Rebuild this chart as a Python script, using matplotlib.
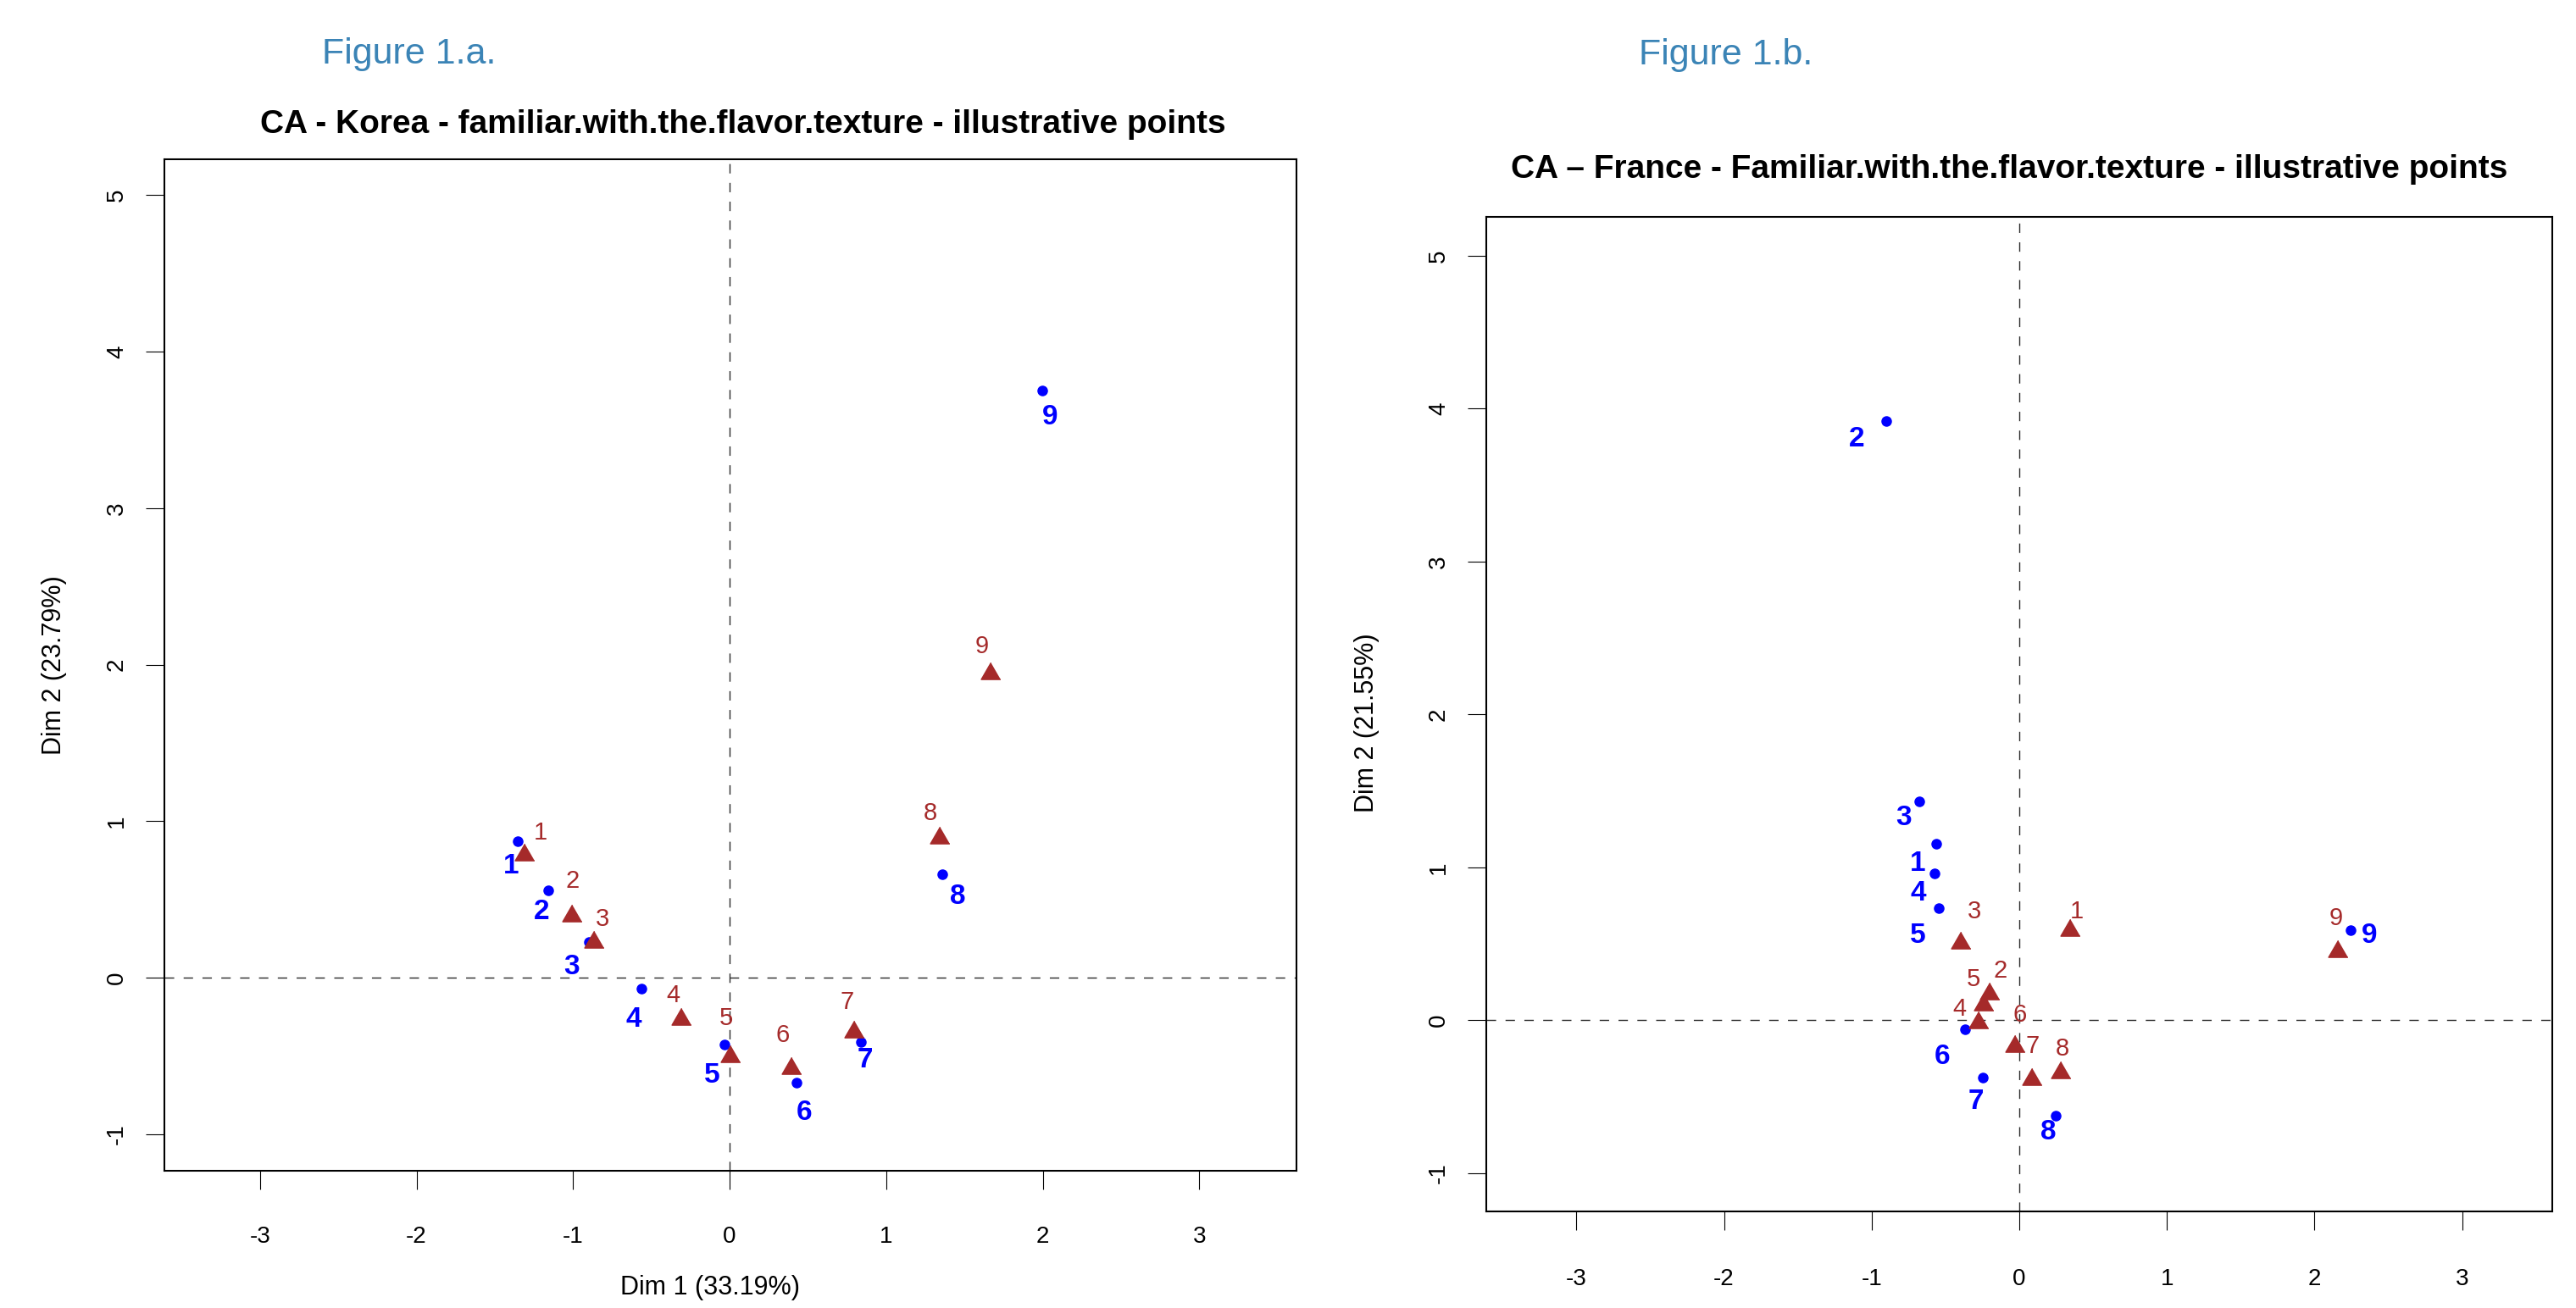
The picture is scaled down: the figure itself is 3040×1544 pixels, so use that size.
import matplotlib
matplotlib.use("Agg")
import matplotlib.pyplot as plt

FONT = ["Liberation Sans Narrow", "Liberation Sans", "DejaVu Sans"]
plt.rcParams['font.family'] = FONT

# ---------------- data ----------------
labels = ["1", "2", "3", "4", "5", "6", "7", "8", "9"]

# Korea (Figure 1.a)
korea_blue_x = [-1.355, -1.157, -0.897, -0.562, -0.032, 0.426, 0.840, 1.360, 1.998]
korea_blue_y = [0.872, 0.558, 0.228, -0.069, -0.430, -0.670, -0.410, 0.659, 3.752]
korea_red_x = [-1.309, -1.008, -0.868, -0.311, 0.004, 0.392, 0.794, 1.341, 1.666]
korea_red_y = [0.786, 0.395, 0.229, -0.267, -0.502, -0.578, -0.348, 0.895, 1.945]

# France (Figure 1.b)
france_blue_x = [-0.562, -0.900, -0.677, -0.572, -0.547, -0.365, -0.247, 0.247, 2.243]
france_blue_y = [1.154, 3.917, 1.431, 0.960, 0.735, -0.061, -0.375, -0.622, 0.591]
france_red_x = [0.346, -0.199, -0.394, -0.275, -0.243, -0.030, 0.084, 0.283, 2.159]
france_red_y = [0.591, 0.176, 0.508, -0.015, 0.101, -0.172, -0.384, -0.341, 0.449]

xticks = [-3, -2, -1, 0, 1, 2, 3]
yticks = [-1, 0, 1, 2, 3, 4, 5]

# label offsets in pixels (dx right, dy down)
korea_blue_off = [(-8, 30), (-8, 26), (-21, 30), (-9, 37), (-15, 36), (9, 36), (5, 22), (18, 26), (9, 32)]
korea_red_off = [(19, -26), (1, -41), (10, -27), (-9, -28), (-5, -45), (-10, -39), (-8, -35), (-11, -29), (-10, -32)]
france_blue_off = [(-22, 23), (-35, 21), (-19, 19), (-20, 23), (-24, 33), (-27, 32), (-8, 28), (-9, 20), (22, 7)]
france_red_off = [(8, -22), (12, -27), (16, -37), (-23, -16), (-12, -30), (6, -37), (1, -39), (2, -28), (-2, -39)]

W, H = 3040, 1544
DPI = 100
fig = plt.figure(figsize=(W / DPI, H / DPI), dpi=DPI)

BLUE = "#0000FF"
RED = "#A52A2A"
TRI = [(0, 0.577), (-0.5, -0.289), (0.5, -0.289)]
PX = 72.0 / DPI  # points per pixel


def make_panel(rect, xlim, ylim, bx, by, rx, ry, boff, roff, tick_pad):
    ax = fig.add_axes(rect)
    ax.set_xlim(*xlim)
    ax.set_ylim(*ylim)
    ax.axhline(0, color="#2b2b2b", lw=1.0, linestyle=(0, (8, 8)), zorder=1)
    ax.axvline(0, color="#2b2b2b", lw=1.0, linestyle=(0, (8, 8)), zorder=1)
    ax.plot(bx, by, linestyle="none", marker="o", ms=8, color=BLUE, zorder=3)
    ax.plot(rx, ry, linestyle="none", marker=TRI, ms=19, color=RED, mec=RED, zorder=3)
    for i, lab in enumerate(labels):
        dx, dy = boff[i]
        ax.annotate(lab, (bx[i], by[i]), xytext=(dx * PX, -dy * PX), textcoords="offset points",
                    ha="center", va="center", color=BLUE, fontsize=24, fontweight="bold", zorder=4)
        dx, dy = roff[i]
        ax.annotate(lab, (rx[i], ry[i]), xytext=(dx * PX, -dy * PX), textcoords="offset points",
                    ha="center", va="center", color=RED, fontsize=21, zorder=4)
    ax.set_xticks(xticks)
    ax.set_yticks(yticks)
    ax.set_xticklabels([str(t) for t in xticks])
    ax.set_yticklabels([str(t) for t in yticks], rotation=90, va="center")
    ax.tick_params(axis="x", length=16, width=0.8, pad=tick_pad, labelsize=20)
    ax.tick_params(axis="y", length=16, width=0.8, pad=15, labelsize=20)
    for s in ax.spines.values():
        s.set_linewidth(1.5)
    return ax


# Left panel: axes 194..1530 x, 188..1382 y (pixels)
make_panel([194 / W, 1 - 1382 / H, (1530 - 194) / W, (1382 - 188) / H],
           (-3.61, 3.62), (-1.235, 5.23),
           korea_blue_x, korea_blue_y, korea_red_x, korea_red_y,
           korea_blue_off, korea_red_off, 31)

# Right panel: axes 1754..3012 x, 256..1430 y
make_panel([1754 / W, 1 - 1430 / H, (3012 - 1754) / W, (1430 - 256) / H],
           (-3.61, 3.61), (-1.25, 5.255),
           france_blue_x, france_blue_y, france_red_x, france_red_y,
           france_blue_off, france_red_off, 32)

# Headings
fig.text(483 / W, 1 - 64 / H, "Figure 1.a.", color="#3B84B6", fontsize=31, ha="center", va="center")
fig.text(2037 / W, 1 - 65 / H, "Figure 1.b.", color="#3B84B6", fontsize=31, ha="center", va="center")

fig.text(877 / W, 1 - 147 / H, "CA - Korea - familiar.with.the.flavor.texture - illustrative points",
         fontsize=28, fontweight="bold", ha="center", va="center")
fig.text(2371 / W, 1 - 200 / H, "CA \u2013 France - Familiar.with.the.flavor.texture - illustrative points",
         fontsize=28, fontweight="bold", ha="center", va="center")

# Axis labels
fig.text(838 / W, 1 - 1520 / H, "Dim 1 (33.19%)", fontsize=22, ha="center", va="center")
fig.text(64 / W, 1 - 785 / H, "Dim 2 (23.79%)", fontsize=22, ha="center", va="center", rotation=90)
fig.text(1613 / W, 1 - 853 / H, "Dim 2 (21.55%)", fontsize=22, ha="center", va="center", rotation=90)

fig.savefig("out.png", dpi=DPI)
